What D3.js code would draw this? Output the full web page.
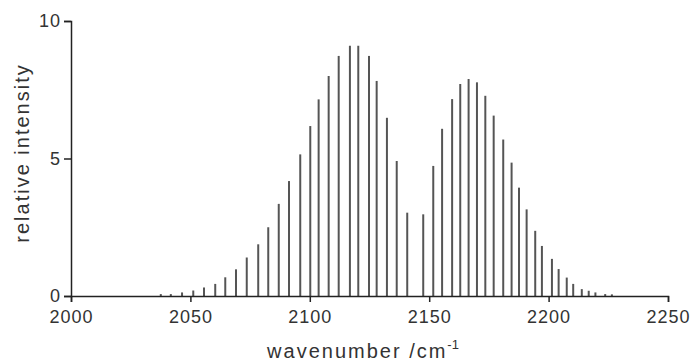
<!DOCTYPE html>
<html>
<head>
<meta charset="utf-8">
<script src="https://cdn.jsdelivr.net/npm/d3@7"></script>
<style>
  body { margin: 0; background: #fff; }
  text { font-family: "Liberation Sans", Arial, sans-serif; fill: #333; }
</style>
</head>
<body>
<script>
// line positions (wavenumber, cm-1) and relative intensities
var wavenumbers = [2037.6, 2041.8, 2046.5, 2051.2, 2055.7, 2060.4, 2064.6, 2069.1,
    2073.6, 2078.4, 2082.6, 2087.0, 2091.3, 2096.0, 2100.2, 2103.7, 2107.9,
    2112.1, 2116.8, 2120.3, 2124.8, 2128.0, 2132.3, 2136.4, 2140.8,
    2147.5, 2151.7, 2155.4, 2159.6, 2163.0, 2166.5, 2170.0, 2173.5, 2177.0,
    2181.0, 2184.5, 2187.6, 2190.8, 2194.4, 2197.2, 2201.4, 2204.2, 2207.6,
    2210.3, 2213.9, 2216.8, 2219.6, 2223.7, 2226.5];
var intensities = [0.07, 0.07, 0.13, 0.2, 0.31, 0.44, 0.68, 0.97,
    1.4, 1.88, 2.5, 3.35, 4.18, 5.15, 6.18, 7.15, 8.0,
    8.73, 9.1, 9.1, 8.73, 7.82, 6.48, 4.91, 3.03,
    2.97, 4.73, 6.08, 7.16, 7.71, 7.89, 7.77, 7.28, 6.56,
    5.69, 4.85, 3.94, 3.15, 2.37, 1.82, 1.35, 0.98, 0.67,
    0.44, 0.25, 0.19, 0.13, 0.07, 0.06];
var xTicks = [2000, 2050, 2100, 2150, 2200, 2250];
var yTicks = [0, 5, 10];

var width = 691, height = 363;
var margin = { left: 71, right: 23, top: 21, bottom: 67 };

var svg = d3.select("body")
    .append("svg")
    .attr("width", width)
    .attr("height", height);

var x = d3.scaleLinear().domain([2000, 2250]).range([margin.left, width - margin.right]);
var y = d3.scaleLinear().domain([0, 10]).range([height - margin.bottom, margin.top]);

// sticks
svg.append("g").selectAll("line")
    .data(wavenumbers)
    .enter()
    .append("line")
    .attr("x1", function (d) { return x(d); })
    .attr("x2", function (d) { return x(d); })
    .attr("y1", y(0))
    .attr("y2", function (d, i) { return y(intensities[i]); })
    .attr("stroke", "#555")
    .attr("stroke-width", 2);

var xAxis = svg.append("g")
    .attr("transform", "translate(0," + y(0) + ")")
    .call(d3.axisBottom(x).tickValues(xTicks).tickSize(6).tickPadding(8).tickFormat(d3.format("d")));

var yAxis = svg.append("g")
    .attr("transform", "translate(" + x(2000) + ",0)")
    .call(d3.axisLeft(y).tickValues(yTicks).tickSize(7).tickPadding(3));

[xAxis, yAxis].forEach(function (g) {
    g.select(".domain").attr("stroke", "#222").attr("stroke-width", 1.5);
    g.selectAll(".tick line").attr("stroke", "#222").attr("stroke-width", 1.5);
    g.selectAll(".tick text")
        .style("font-size", "18px")
        .style("letter-spacing", "1px")
        .attr("fill", "#333");
});

// axis titles
svg.append("text")
    .attr("transform", "translate(29,153) rotate(-90)")
    .attr("text-anchor", "middle")
    .style("font-size", "20px")
    .style("letter-spacing", "2px")
    .text("relative intensity");

var xt = svg.append("text")
    .attr("x", 363)
    .attr("y", 358)
    .attr("text-anchor", "middle")
    .style("font-size", "20px")
    .style("letter-spacing", "2px")
    .text("wavenumber /cm");
xt.append("tspan")
    .attr("dy", -9)
    .style("font-size", "13px")
    .style("letter-spacing", "0px")
    .text("-1");
</script>
</body>
</html>
